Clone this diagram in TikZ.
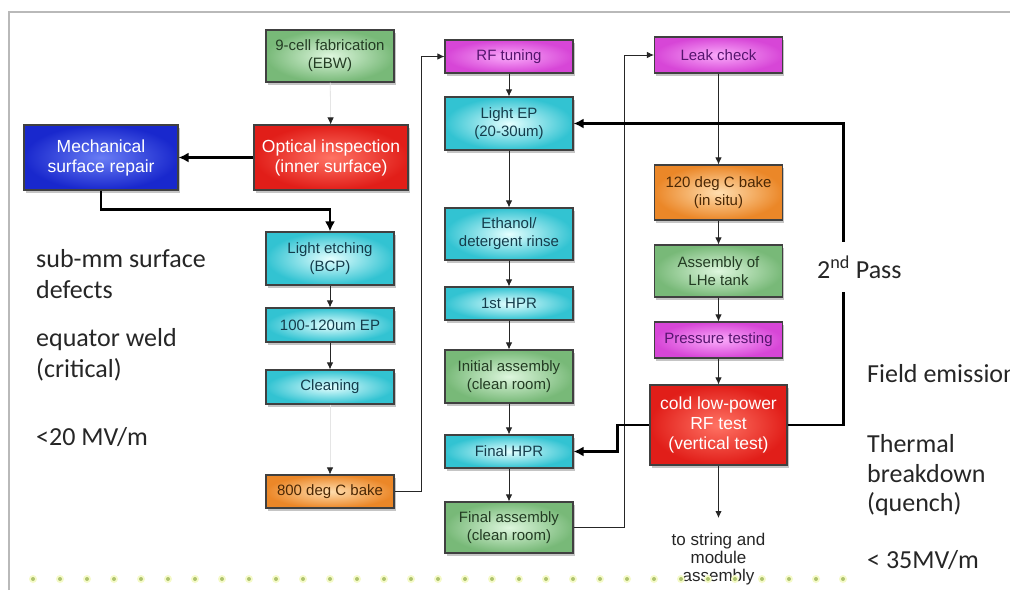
\documentclass[tikz,border=0pt]{standalone}
\usepackage{fontspec}
\setmainfont{Liberation Sans}
\newfontfamily\calfont{Carlito}
\usetikzlibrary{arrows.meta,shadows}
\definecolor{gEdge}{RGB}{120,185,120}
\definecolor{gCen}{RGB}{222,247,222}
\definecolor{gTxt}{RGB}{35,60,35}
\definecolor{cEdge}{RGB}{50,195,210}
\definecolor{cCen}{RGB}{228,255,255}
\definecolor{cTxt}{RGB}{20,60,75}
\definecolor{oEdge}{RGB}{235,135,40}
\definecolor{oCen}{RGB}{255,222,175}
\definecolor{oTxt}{RGB}{75,40,5}
\definecolor{mEdge}{RGB}{215,70,215}
\definecolor{mCen}{RGB}{250,170,250}
\definecolor{mTxt}{RGB}{85,20,110}
\definecolor{rEdge}{RGB}{225,30,25}
\definecolor{rCen}{RGB}{255,115,100}
\definecolor{bEdge}{RGB}{25,40,205}
\definecolor{bCen}{RGB}{105,125,245}
\definecolor{dotc}{RGB}{175,195,110}
\definecolor{dothalo}{RGB}{245,250,200}
\tikzset{
  box/.style={draw=black!75, line width=1.1pt, minimum width=128pt, inner sep=1pt,
    align=center, font=\fontsize{15}{18}\selectfont,
    drop shadow={shadow xshift=1.5pt, shadow yshift=-3pt, opacity=0.45}},
  gbox/.style={box, inner color=gCen, outer color=gEdge, text=gTxt},
  cbox/.style={box, inner color=cCen, outer color=cEdge, text=cTxt},
  obox/.style={box, inner color=oCen, outer color=oEdge, text=oTxt},
  mbox/.style={box, inner color=mCen, outer color=mEdge, text=mTxt},
  rbox/.style={box, inner color=rCen, outer color=rEdge, text=white, font=\fontsize{17.5}{20}\selectfont},
  bbox/.style={box, inner color=bCen, outer color=bEdge, text=white, font=\fontsize{17.5}{20}\selectfont},
  smallarr/.style={draw=black!85, line width=0.9pt, -{Latex[length=7pt,width=6.5pt]}},
  faintarr/.style={draw=black!10, line width=0.8pt, -{Latex[length=7pt,width=6.5pt,black!85]}},
  bigarr/.style={draw=black, line width=2.4pt, -{Latex[length=10pt,width=10pt]}},
  anno/.style={font=\calfont\fontsize{26}{31}\selectfont, text=black!85, inner sep=0pt, anchor=base west},
  smalltxt/.style={font=\fontsize{17}{18}\selectfont, text=black!85, align=center, inner sep=0pt}
}
\begin{document}
\begin{tikzpicture}[x=1pt,y=-1pt]
\clip (0,0) rectangle (1010,590);
\fill[white] (0,0) rectangle (1010,590);
\draw[gray!55, line width=1.2pt] (9,590) -- (9,12) -- (1010,12);

% left column
\node[gbox, minimum height=52pt] (fab) at (330,56) {9-cell fabrication\\(EBW)};
\node[rbox, minimum width=154pt, minimum height=65pt] (opt) at (331,157.5) {Optical inspection\\(inner surface)};
\node[bbox, minimum width=154pt, minimum height=65pt] (mech) at (101,157.5) {Mechanical\\surface repair};
\node[cbox, minimum height=53pt] (etch) at (330,258.5) {Light etching\\(BCP)};
\node[cbox, minimum height=34pt] (ep) at (330,325) {100-120um EP};
\node[cbox, minimum height=34pt] (clean) at (330,387) {Cleaning};
\node[obox, minimum height=33pt] (bake8) at (330,491.5) {800 deg C bake};

% middle column
\node[mbox, minimum height=33pt] (rft) at (509,56.5) {RF tuning};
\node[cbox, minimum height=53pt] (lep) at (509,123.5) {Light EP\\(20-30um)};
\node[cbox, minimum height=52pt] (eth) at (509,234) {Ethanol/\\detergent rinse};
\node[cbox, minimum height=33pt] (hpr1) at (509,303.5) {1st HPR};
\node[gbox, minimum height=53pt] (iasm) at (509,376.5) {Initial assembly\\(clean room)};
\node[cbox, minimum height=33pt] (fhpr) at (509,451.5) {Final HPR};
\node[gbox, minimum height=51pt] (fasm) at (509,527.5) {Final assembly\\(clean room)};

% right column
\node[mbox, minimum height=36pt] (leak) at (718.5,55) {Leak check};
\node[obox, minimum height=55pt] (b120) at (718.5,192.5) {120 deg C bake\\(in situ)};
\node[gbox, minimum height=52pt] (lhe) at (718.5,271) {Assembly of\\LHe tank};
\node[mbox, minimum height=36pt] (press) at (718.5,340) {Pressure testing};
\node[rbox, minimum width=137pt, minimum height=80pt] (rftest) at (718.5,425) {cold low-power\\RF test\\(vertical test)};
\coordinate (tsend) at (718.5,518);
\node[smalltxt, anchor=north] (tostr) at (718.5,533) {to string and\\module\\assembly};

% connectors
\draw[bigarr] (opt.west) -- (mech.east);
\draw[bigarr] (mech.south) -- ++(0,19) -| (etch.north);
\draw[faintarr] (fab) -- (opt);
\draw[smallarr] (etch) -- (ep);
\draw[smallarr] (ep) -- (clean);
\draw[faintarr] (clean) -- (bake8);
\draw[smallarr] (bake8.east) -- ++(27,0) |- (rft.west);
\draw[smallarr] (rft) -- (lep);
\draw[smallarr] (lep) -- (eth);
\draw[smallarr] (eth) -- (hpr1);
\draw[smallarr] (hpr1) -- (iasm);
\draw[smallarr] (iasm) -- (fhpr);
\draw[smallarr] (fhpr) -- (fasm);
\draw[smallarr] (fasm.east) -- ++(51,0) |- (leak.west);
\draw[smallarr] (leak) -- (b120);
\draw[smallarr] (b120) -- (lhe);
\draw[smallarr] (lhe) -- (press);
\draw[smallarr] (press) -- (rftest);
\draw[smallarr] (rftest.south) -- (tsend);
\draw[bigarr] (rftest.east) -- ++(56,0) |- (lep.east);
\draw[bigarr] (rftest.west) -- ++(-32,0) |- (fhpr.east);

% annotations
\node[anno, fill=white, inner xsep=2pt, inner ysep=14pt] (pass) at (815,278) {2\textsuperscript{nd} Pass};
\node[anno] (a1) at (36,267) {sub-mm surface};
\node[anno] (a2) at (36,298) {defects};
\node[anno] (a3) at (36,346) {equator weld};
\node[anno] (a4) at (36,377) {(critical)};
\node[anno] (a5) at (36,445) {<20 MV/m};
\node[anno] (b1) at (867,382) {Field emission};
\node[anno] (b2) at (867,452) {Thermal};
\node[anno] (b3) at (867,482) {breakdown};
\node[anno] (b4) at (867,511) {(quench)};
\node[anno] (b5) at (867,568) {< 35MV/m};

% dotted rule
\foreach \i in {0,...,30} {
  \fill[dothalo] (33+27*\i,579) circle (4pt);
  \fill[dotc] (33+27*\i,579) circle (2pt);
}
\end{tikzpicture}
\end{document}
